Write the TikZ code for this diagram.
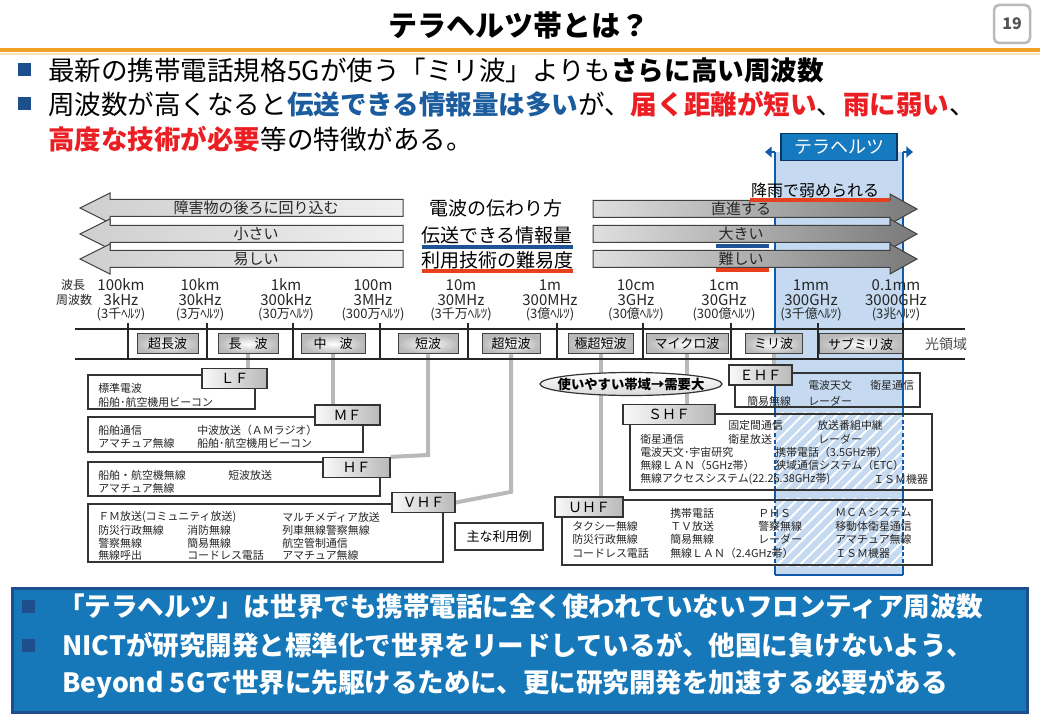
\documentclass[tikz,border=0pt]{standalone}
\usepackage{fontspec}
\setmainfont{Noto Sans CJK JP}
\usetikzlibrary{shapes.geometric,arrows.meta,patterns.meta,backgrounds}

\definecolor{thzblue}{RGB}{197,218,240}
\definecolor{thzedge}{RGB}{16,90,170}
\definecolor{thzlabel}{RGB}{22,122,192}
\definecolor{navy}{RGB}{31,78,140}
\definecolor{txtblue}{RGB}{27,92,158}
\definecolor{txtred}{RGB}{235,30,35}
\definecolor{lineblue}{RGB}{30,84,150}
\definecolor{linered}{RGB}{232,64,28}
\definecolor{titleorange}{RGB}{242,160,40}
\definecolor{panelblue}{RGB}{22,120,185}

\def\px{0.75pt}

\tikzset{
  slidetitle/.style={inner sep=0, font=\fontsize{21.75}{24}\selectfont\bfseries},
  bullettext/.style={anchor=west, inner sep=0, font=\fontsize{19.9}{22}\selectfont},
  paneltext/.style={anchor=west, inner sep=0, text=white, font=\fontsize{19.9}{22}\selectfont\bfseries},
  arrowtext/.style={inner sep=0, text=black!85, font=\fontsize{11.25}{13}\selectfont},
  midtext/.style={inner sep=0, font=\fontsize{14.25}{16}\selectfont},
  wavetext/.style={inner sep=0, text=black!85, font=\fontsize{11.25}{12}\selectfont},
  hztext/.style={inner sep=0, text=black!85, font=\fontsize{9.75}{11}\selectfont},
  bandbox/.style={draw=black!75, line width=1*\px, inner color=white, outer color=gray!55,
    minimum height=20*\px, inner sep=0, font=\fontsize{9.75}{11}\selectfont},
  bandlink/.style={draw=gray!55, line width=4*\px},
  usebox/.style={draw=black!80, line width=1.2*\px, inner sep=0},
  usetext/.style={anchor=west, inner sep=0, text=black!85, font=\fontsize{8.2}{9}\selectfont},
  fbox/.style={draw=black!80, line width=1.2*\px, left color=gray!5, right color=gray!55,
    minimum width=65*\px, minimum height=20*\px, inner sep=0, font=\fontsize{10.5}{12}\selectfont},
  thzline/.style={draw=thzedge, line width=2.5*\px},
}

\begin{document}
\begin{tikzpicture}[x=0.75pt, y=-0.75pt]
    \useasboundingbox (0,0) rectangle (1040,720);

    % タイトル
    \node[slidetitle] (title) at (519,25) {テラヘルツ帯とは？};
    \node[draw=gray!55, line width=2.5*\px, rounded corners=5*\px, minimum width=36*\px, minimum height=38*\px,
      inner sep=0, text=gray!65!black, font=\fontsize{12}{14}\selectfont\bfseries] (page) at (1012,24) {19};
    \draw[titleorange, line width=3.5*\px] (0,50) -- (1040,50);
    \draw[titleorange!35, line width=2*\px] (0,54) -- (1040,54);

    % 箇条書き
    \foreach \y in {70,104}
      \fill[navy] (18,\y-6.5) rectangle (31,\y+6.5);
    \node[bullettext] (line1) at (48,70) {最新の携帯電話規格5Gが使う「ミリ波」よりも\textbf{さらに高い周波数}};
    \node[bullettext] (line2) at (48,104) {周波数が高くなると\textcolor{txtblue}{\textbf{伝送できる情報量は多い}}が、\textcolor{txtred}{\textbf{届く距離が短い}}、\textcolor{txtred}{\textbf{雨に弱い}}、};
    \node[bullettext] (line3) at (48,139) {\textcolor{txtred}{\textbf{高度な技術が必要}}等の特徴がある。};

    % テラヘルツ帯
    \coordinate (thzTL) at (775,152);
    \coordinate (thzTR) at (903,152);
    \coordinate (thzBL) at (775,575);
    \coordinate (thzBR) at (903,575);
    \node[fill=thzlabel, draw=thzedge!60!black, line width=1.5*\px, minimum width=116*\px, minimum height=27*\px,
      inner sep=0, text=white, font=\fontsize{13.5}{15}\selectfont] (thz) at (839,147) {テラヘルツ};

    % 電波の伝わり方（左向き）
    \foreach \y/\t/\nm in {208/障害物の後ろに回り込む/mawari, 234/小さい/chiisai, 259/易しい/yasashii} {
      \shade[left color=gray!38, right color=gray!12, draw=gray!50!black, line width=1*\px]
        (403,\y-8.5) -- (110,\y-8.5) -- (110,\y-15) -- (80,\y) -- (110,\y+15) -- (110,\y+8.5) -- (403,\y+8.5) -- cycle;
      \node[arrowtext] (\nm) at (256,\y) {\t};
    }

    % 電波の伝わり方（右向き）
    \foreach \y/\t/\nm in {209/直進する/chokushin, 234/大きい/ookii, 259/難しい/muzukashii} {
      \shade[left color=gray!25, right color=gray!95!black, draw=gray!50!black, line width=1*\px]
        (593,\y-8.5) -- (890,\y-8.5) -- (890,\y-15) -- (917,\y) -- (890,\y+15) -- (890,\y+8.5) -- (593,\y+8.5) -- cycle;
      \node[arrowtext] (\nm) at (741,\y) {\t};
    }

    \node[midtext] (denpa) at (496,208) {電波の伝わり方};
    \node[midtext] (joho) at (497,235) {伝送できる情報量};
    \node[midtext] (gijutsu) at (497,260) {利用技術の難易度};
    \node[inner sep=0, font=\fontsize{12}{14}\selectfont] (kou) at (815,190) {降雨で弱められる};
    \draw[lineblue, line width=3.5*\px] (422,247) -- (573,247);
    \draw[linered, line width=3.5*\px] (422,271) -- (573,271);
    \draw[linered, line width=3.5*\px] (750,200) -- (890,200);
    \draw[lineblue, line width=3.5*\px] (716,246) -- (769,246);
    \draw[linered, line width=3.5*\px] (716,270) -- (769,270);

    % 波長と周波数
    \node[hztext, font=\fontsize{9}{10}\selectfont] (hachou) at (73,285) {波長};
    \node[hztext, font=\fontsize{9}{10}\selectfont] (shuha) at (74,300) {周波数};
    \foreach \x/\wl/\fr/\jp [count=\i] in {
        128/100km/3kHz/{(3千ﾍﾙﾂ)},
        207/10km/30kHz/{(3万ﾍﾙﾂ)},
        293/1km/300kHz/{(30万ﾍﾙﾂ)},
        380/100m/3MHz/{(300万ﾍﾙﾂ)},
        468/10m/30MHz/{(3千万ﾍﾙﾂ)},
        557/1m/300MHz/{(3億ﾍﾙﾂ)},
        643/10cm/3GHz/{(30億ﾍﾙﾂ)},
        731/1cm/30GHz/{(300億ﾍﾙﾂ)},
        818/1mm/300GHz/{(3千億ﾍﾙﾂ)},
        903/0.1mm/3000GHz/{(3兆ﾍﾙﾂ)}} {
      \draw[black!85, line width=1.8*\px] (\x,323) -- (\x,359);
      \node[wavetext] (wl\i) at (\x-7,285) {\wl};
      \node[wavetext] (fr\i) at (\x-7,300) {\fr};
      \node[hztext] (hz\i) at (\x-7,314) {\jp};
    }
    \draw[black!85, line width=1.8*\px] (75,329) -- (965,329) (75,359) -- (965,359);

    % 周波数帯の名前
    \foreach \nm/\x/\w/\t in {choucho/167.5/61/超長波, chouha/248/60/{長　波}, chuuha/333/64/{中　波},
        tanpa/428/60/短波, choutan/511/58/超短波, gokuchou/600.5/65/極超短波,
        micro/687/82/マイクロ波, miri/773.5/57/ミリ波, submiri/860.5/83/サブミリ波}
      \node[bandbox, minimum width=\w*\px] (\nm) at (\x,344) {\t};
    \node[inner sep=0, text=black!70, font=\fontsize{10.5}{12}\selectfont] (hikari) at (946,344) {光領域};

    % 利用例の枠
    \node[usebox, minimum width=167*\px, minimum height=34*\px] (lfu) at (171.5,392) {};
    \node[usebox, minimum width=275*\px, minimum height=35*\px] (mfu) at (225.5,434.5) {};
    \node[usebox, minimum width=292*\px, minimum height=34*\px] (hfu) at (234,479) {};
    \node[usebox, minimum width=355*\px, minimum height=58*\px] (vhfu) at (265.5,533) {};
    \node[usebox, minimum width=185*\px, minimum height=34*\px] (ehfu) at (827.5,390) {};
    \node[usebox, line width=2*\px, minimum width=302*\px, minimum height=76*\px] (shfu) at (781,452) {};
    \node[usebox, line width=2*\px, minimum width=370*\px, minimum height=65*\px] (uhfu) at (747,532.5) {};
    \node[usebox, minimum width=88*\px, minimum height=27*\px, font=\fontsize{9.75}{11}\selectfont] (rei) at (499,536.5) {主な利用例};

    % 利用例
    \foreach \x/\y/\t [count=\i] in {
        98/388/標準電波, 98/402/船舶･航空機用ビーコン,
        98/430/船舶通信, 98/443/アマチュア無線, 197/430/中波放送（ＡＭラジオ）, 197/443/船舶･航空機用ビーコン,
        98/475/船舶・航空機無線, 98/488/アマチュア無線, 228/475/短波放送,
        98/517/ＦＭ放送(コミュニティ放送), 282/517/マルチメディア放送,
        98/530/防災行政無線, 187/530/消防無線, 282/530/列車無線警察無線,
        98/543/警察無線, 187/543/簡易無線, 282/543/航空管制通信,
        98/555/無線呼出, 187/555/コードレス電話, 282/555/アマチュア無線,
        808/385/電波天文, 870/385/衛星通信, 747/401/簡易無線, 808/401/レーダー,
        728/425/固定間通信, 817/425/放送番組中継,
        640/439/衛星通信, 728/439/衛星放送, 818/439/レーダー,
        640/452/電波天文･宇宙研究, 775/452/携帯電話（3.5GHz帯）,
        640/465/無線ＬＡＮ（5GHz帯）, 775/465/狭域通信システム（ETC）,
        640/479/無線アクセスシステム(22.26.38GHz帯), 873/479/ＩＳＭ機器,
        670/513/携帯電話, 758/513/ＰＨＳ, 835/513/ＭＣＡシステム,
        572/526/タクシー無線, 670/526/ＴＶ放送, 758/526/警察無線, 835/526/移動体衛星通信,
        572/539/防災行政無線, 670/539/簡易無線, 758/539/レーダー, 835/539/アマチュア無線,
        572/553/コードレス電話, 670/553/無線ＬＡＮ（2.4GHz帯）, 835/553/ＩＳＭ機器}
      \node[usetext] (use\i) at (\x,\y) {\t};

    % 周波数帯の略称
    \node[fbox] (lf) at (234.5,378.5) {ＬＦ};
    \node[fbox] (mf) at (347.5,415) {ＭＦ};
    \node[fbox, minimum width=67*\px] (hf) at (356.5,467.5) {ＨＦ};
    \node[fbox, minimum width=63*\px] (vhf) at (423.5,502.5) {ＶＨＦ};
    \node[fbox, minimum width=63*\px] (ehf) at (760.5,375) {ＥＨＦ};
    \node[fbox, minimum width=92*\px] (shf) at (669,414.5) {ＳＨＦ};
    \node[fbox, minimum width=68*\px] (uhf) at (589,507) {ＵＨＦ};

    \node[ellipse, draw=black!80, line width=1.2*\px, top color=white, bottom color=gray!30,
      minimum width=182*\px, minimum height=23*\px, inner sep=0] (juyou) at (631,384) {};
    \node[inner sep=0, font=\fontsize{10}{12}\selectfont\bfseries] (juyoutext) at (juyou) {使いやすい帯域→需要大};

    % 下のまとめ
    \node[fill=panelblue, draw=navy, line width=3*\px, minimum width=1015*\px, minimum height=124*\px, inner sep=0] (panel) at (519.5,650) {};
    \foreach \y in {606,645}
      \fill[navy] (22,\y-6.5) rectangle (35,\y+6.5);
    \node[paneltext] (frontier) at (58,606) {「テラヘルツ」は世界でも携帯電話に全く使われていないフロンティア周波数};
    \node[paneltext] (nict) at (62,645) {NICTが研究開発と標準化で世界をリードしているが、他国に負けないよう、};
    \node[paneltext] (beyond) at (62,684) {Beyond 5Gで世界に先駆けるために、更に研究開発を加速する必要がある};

    % 背景の層
    \begin{scope}[on background layer]
      \fill[white] (0,0) rectangle (1040,720);
      \fill[thzblue] (thzTL) rectangle (thzBR);
      \begin{scope}
        \clip (thzTL) rectangle (thzBR);
        \fill[pattern={Lines[angle=45, distance=6pt, line width=1.4pt]}, pattern color=white]
          (shfu.north west) rectangle (shfu.south east);
        \fill[pattern={Lines[angle=45, distance=6pt, line width=1.4pt]}, pattern color=white]
          (uhfu.north west) rectangle (uhfu.south east);
      \end{scope}
      \foreach \c/\d in {thzTL/-1, thzTR/1} {
        \draw[thzline] (\c) -- (\c |- shfu.north) (\c |- shfu.south) -- (\c |- uhfu.north) (\c |- uhfu.south) -- (\c |- thzBL);
        \draw[thzline, dash pattern=on 3pt off 2pt] (\c |- shfu.north) -- (\c |- shfu.south) (\c |- uhfu.north) -- (\c |- uhfu.south);
        \draw[thzline, -{Triangle[length=5pt, width=8pt]}] (\c) -- ++(\d*10,0);
      }
      \draw[thzline] (thzBL) -- (thzBR);

      % 帯から略称へ
      \draw[bandlink] (chouha.south) -- (chouha.south |- lf.north);
      \draw[bandlink] (chuuha.south) -- (chuuha.south |- mf.north);
      \draw[bandlink] (tanpa.south) -- (tanpa.south |- 0,455) -- (hf.north east);
      \draw[bandlink] (choutan.south) -- (choutan.south |- vhf.north) -- (vhf.east);
      \draw[bandlink] (gokuchou.south) -- (gokuchou.south |- uhf.north);
      \draw[bandlink] (micro.south) -- (micro.south |- shf.north);
      \draw[bandlink] (miri.south) -- (miri.south |- ehf.north);
    \end{scope}
\end{tikzpicture}
\end{document}
